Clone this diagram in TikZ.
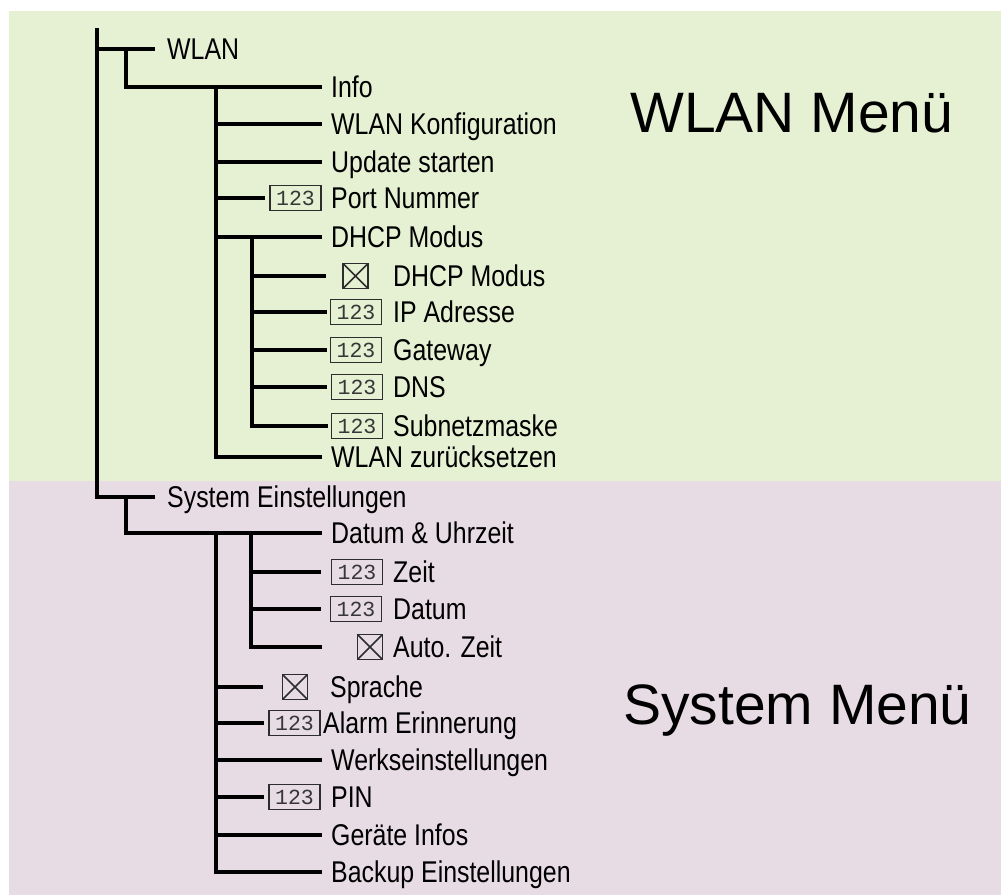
\documentclass[tikz,border=0pt]{standalone}
\usepackage{fontspec}
\setmainfont{Liberation Sans}[FakeStretch=0.83]
\newfontfamily\bigfont{Liberation Sans}
\newfontfamily\numfont{Liberation Mono}
\definecolor{wlanbg}{RGB}{230,240,211}
\definecolor{sysbg}{RGB}{232,220,228}
\definecolor{boxcol}{RGB}{45,45,45}
\definecolor{numcol}{RGB}{55,55,55}
\tikzset{
  tree/.style={line width=4.2pt, line join=miter, line cap=butt, black},
  item/.style={anchor=west, inner sep=0pt, text height=22pt, text depth=1pt,
    font=\fontsize{30}{32}\selectfont},
  bigtext/.style={anchor=base west, inner sep=0pt, font=\bigfont\fontsize{57}{60}\selectfont},
  numbox/.style={draw=boxcol, line width=1.5pt, minimum width=51pt, minimum height=25pt,
    inner sep=0pt, text=numcol, font=\numfont\fontsize{21.5}{21.5}\selectfont},
  cbox/.style={draw=boxcol, line width=1.6pt, minimum size=25pt, inner sep=0pt,
    path picture={\draw[boxcol, line width=1.6pt]
      (path picture bounding box.south west) -- (path picture bounding box.north east)
      (path picture bounding box.north west) -- (path picture bounding box.south east);}}
}
\begin{document}
\begin{tikzpicture}[x=1pt,y=-1pt]
\useasboundingbox (0,0) rectangle (1001,895);
\fill[wlanbg] (9,11) rectangle (1001,481);
\fill[sysbg] (9,481) rectangle (1001,895);

% vertical axes
\coordinate (v0) at (97,28);
\coordinate (v1) at (126,0);
\coordinate (v2) at (216,0);
\coordinate (v3) at (252,0);
\coordinate (v4) at (251,0);

% big labels
\node[bigtext] (wm) at (630,132) {WLAN Menü};
\node[bigtext] (sm) at (623,724) {System Menü};

% ---------------- WLAN ----------------
\node[item] (wlan) at (167,49) {WLAN};
\node[item] (info) at (331,87) {Info};
\node[item] (wkonf) at (331,124) {WLAN Konfiguration};
\node[item] (update) at (331,162) {Update starten};
\node[numbox] (portbox) at (295.5,198) {123};
\node[item] (port) at (331,198) {Port Nummer};
\node[item] (dhcp) at (331,237) {DHCP Modus};
\node[cbox] (dhcpcb) at (355.5,276) {};
\node[item] (dhcpm) at (393,276) {DHCP Modus};
\node[numbox] (ipbox) at (356,312) {123};
\node[item] (ip) at (393,312) {IP Adresse};
\node[numbox] (gwbox) at (356,350) {123};
\node[item] (gw) at (393,350) {Gateway};
\node[numbox] (dnsbox) at (357,387) {123};
\node[item] (dns) at (393,387) {DNS};
\node[numbox] (subbox) at (357,426) {123};
\node[item] (sub) at (393,426) {Subnetzmaske};
\node[item] (wreset) at (331,457) {WLAN zurücksetzen};

% ---------------- System ----------------
\node[item] (sys) at (167,497) {System Einstellungen};
\node[item] (datum) at (331,533) {Datum \& Uhrzeit};
\node[numbox] (zeitbox) at (357,572) {123};
\node[item] (zeit) at (393,572) {Zeit};
\node[numbox] (datebox) at (356,609) {123};
\node[item] (date) at (393,609) {Datum};
\node[cbox] (autocb) at (370,647) {};
\node[item] (auto) at (393,647) {Auto. Zeit};
\node[cbox] (sprcb) at (295,687) {};
\node[item] (spr) at (330,687) {Sprache};
\node[numbox] (alarmbox) at (294.5,723) {123};
\node[item] (alarm) at (323,723) {Alarm Erinnerung};
\node[item] (werks) at (331,760) {Werkseinstellungen};
\node[numbox] (pinbox) at (294.5,797) {123};
\node[item] (pin) at (331,797) {PIN};
\node[item] (ger) at (331,835) {Geräte Infos};
\node[item] (backup) at (331,872) {Backup Einstellungen};

% ---------------- tree lines ----------------
\draw[tree, shorten >=12pt] (v0) -- (sys.west -| v0) -- (sys.west);
\draw[tree, shorten >=12pt] (wlan.west -| v0) -- (wlan.west);

% WLAN subtree
\draw[tree, shorten >=9pt] (wlan.west -| v1) -- (info.west -| v1) -- (info.west);
\draw[tree, shorten >=9pt] (info.west -| v2) -- (wreset.west -| v2) -- (wreset.west);
\draw[tree, shorten >=9pt] (wkonf.west -| v2) -- (wkonf.west);
\draw[tree, shorten >=9pt] (update.west -| v2) -- (update.west);
\draw[tree, shorten >=4pt] (port.west -| v2) -- (portbox.west);
\draw[tree, shorten >=9pt] (dhcp.west -| v2) -- (dhcp.west);
\draw[tree, shorten >=3pt] (dhcp.west -| v3) -- (sub.west -| v3) -- (subbox.west);
\draw[tree, shorten >=16pt] (dhcpm.west -| v3) -- (dhcpcb.west);
\draw[tree, shorten >=3pt] (ip.west -| v3) -- (ipbox.west);
\draw[tree, shorten >=3pt] (gw.west -| v3) -- (gwbox.west);
\draw[tree, shorten >=4pt] (dns.west -| v3) -- (dnsbox.west);

% System subtree
\draw[tree, shorten >=9pt] (sys.west -| v1) -- (datum.west -| v1) -- (datum.west);
\draw[tree, shorten >=9pt] (datum.west -| v2) -- (backup.west -| v2) -- (backup.west);
\draw[tree, shorten >=35pt] (datum.west -| v4) -- (auto.west -| v4) -- (autocb.west);
\draw[tree, shorten >=10pt] (zeit.west -| v4) -- (zeitbox.west);
\draw[tree, shorten >=9pt] (date.west -| v4) -- (datebox.west);
\draw[tree, shorten >=19pt] (spr.west -| v2) -- (sprcb.west);
\draw[tree, shorten >=4pt] (alarm.west -| v2) -- (alarmbox.west);
\draw[tree, shorten >=9pt] (werks.west -| v2) -- (werks.west);
\draw[tree, shorten >=4pt] (pin.west -| v2) -- (pinbox.west);
\draw[tree, shorten >=9pt] (ger.west -| v2) -- (ger.west);
\end{tikzpicture}
\end{document}
